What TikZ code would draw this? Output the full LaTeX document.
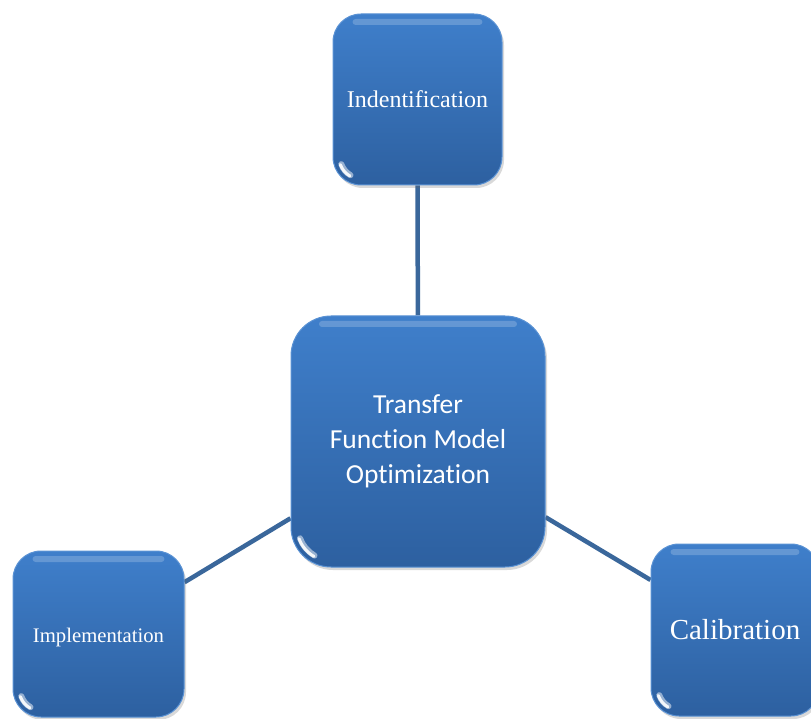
\documentclass[tikz,border=0pt]{standalone}
\usepackage{fontspec}
\setmainfont{Liberation Serif}
\newfontfamily\calib[Ligatures=NoCommon]{Carlito}
\usetikzlibrary{shadows,calc,backgrounds}
\definecolor{btop}{HTML}{3F7FCB}
\definecolor{bbot}{HTML}{2D60A0}
\definecolor{bedge}{HTML}{5A92D4}
\definecolor{linkc}{HTML}{3A679B}
\tikzset{
  box/.style={draw=bedge, line width=1pt, rounded corners=#1, top color=btop, bottom color=bbot,
    text=white, align=center, inner sep=0pt,
    drop shadow={shadow xshift=2pt, shadow yshift=-3pt, opacity=0.25, fill=black!60},
    path picture={
      \fill[white, opacity=0.2, rounded corners=3pt]
        ([xshift=#1*0.7, yshift=-5pt]path picture bounding box.north west) rectangle
        ([xshift=-#1*0.7, yshift=-11pt]path picture bounding box.north east);
      \draw[white, opacity=0.5, line width=6pt, line cap=round]
        ($(path picture bounding box.south west)+(#1,#1)+(200:#1-7pt)$)
        arc[start angle=200, end angle=240, radius=#1-7pt];
      \draw[white, opacity=0.9, line width=3pt, line cap=round]
        ($(path picture bounding box.south west)+(#1,#1)+(200:#1-6pt)$)
        arc[start angle=200, end angle=240, radius=#1-6pt];
    }},
  link/.style={draw=linkc, line width=4.5pt}
}
\begin{document}
\begin{tikzpicture}[x=1pt,y=1pt]
\useasboundingbox (0,0) rectangle (811,718);
\node[box=28pt, minimum width=169pt, minimum height=171pt, font=\fontsize{24}{28}\selectfont] (ident) at (417.5,618.5) {Indentification};
\node[box=40pt, minimum width=254pt, minimum height=251pt, font=\calib\fontsize{27.5}{35}\selectfont] (core) at (418,276.5) {Transfer\\Function Model\\Optimization};
\node[box=28pt, minimum width=171pt, minimum height=166pt, font=\fontsize{20.7}{24}\selectfont] (impl) at (98.5,84) {\raisebox{-8.5pt}[0pt][0pt]{Implementation}};
\node[box=28pt, minimum width=168pt, minimum height=172pt, font=\fontsize{29}{34}\selectfont] (calib) at (735,88) {Calibration};
\begin{scope}[on background layer]
\draw[link] (ident) -- (core);
\draw[link] (impl) -- (core);
\draw[link] (core) -- (calib);
\end{scope}
\end{tikzpicture}
\end{document}
